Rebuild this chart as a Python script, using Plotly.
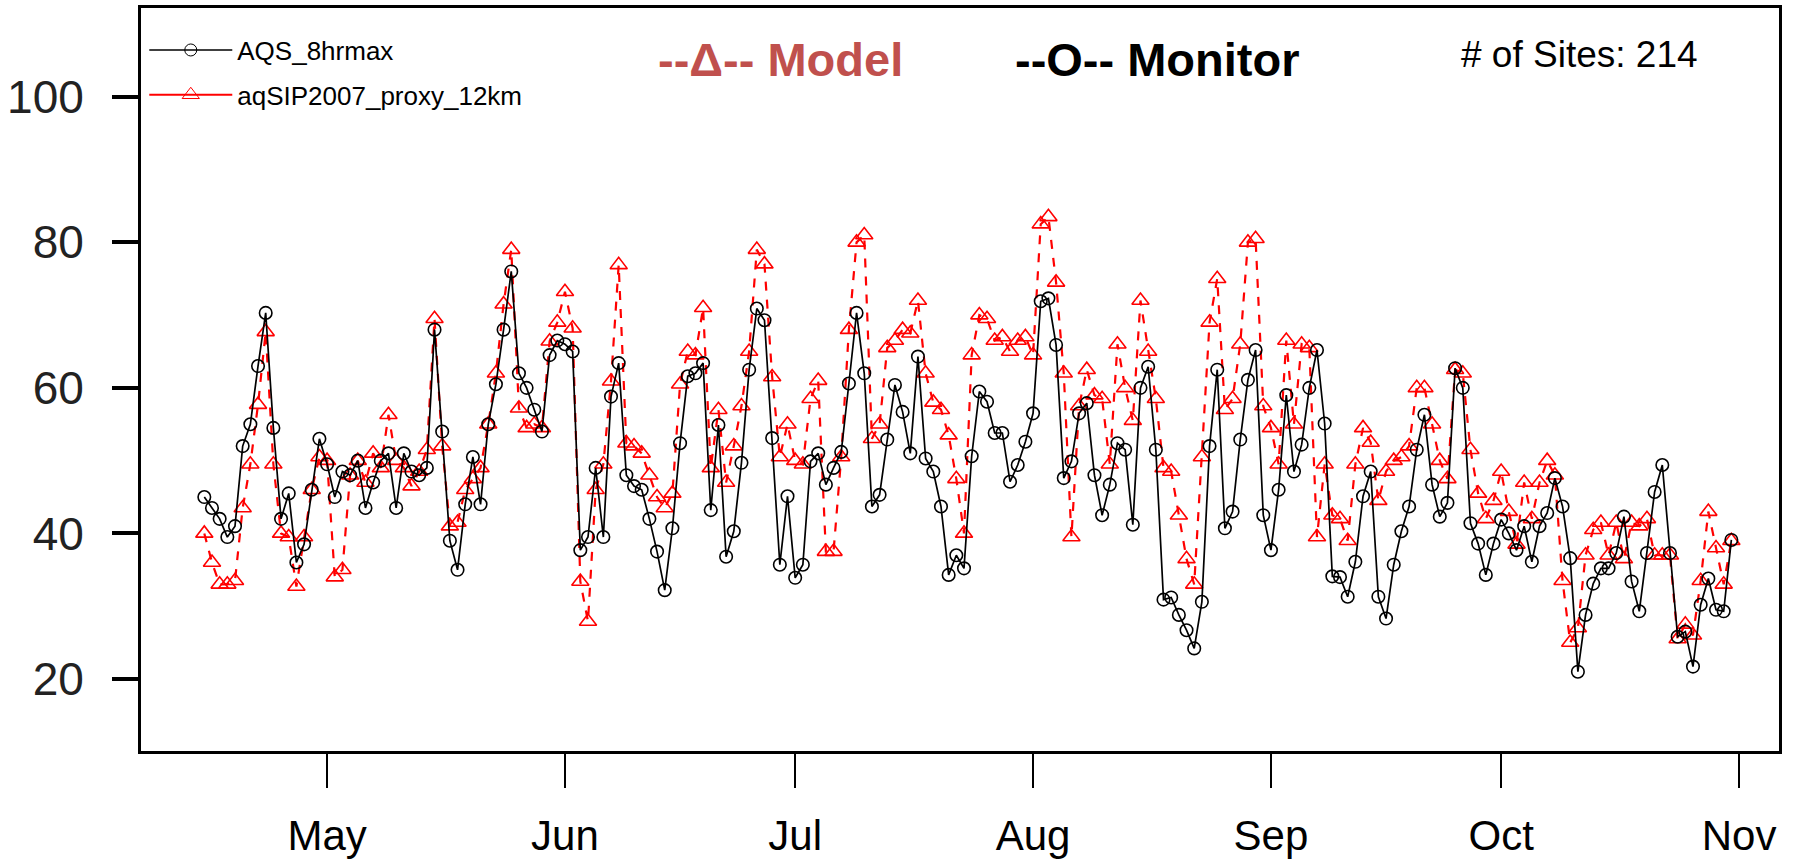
import plotly.graph_objects as go
import pandas as pd

start_date = "2007-04-15"

monitor = [
    45, 43.5, 42, 39.5, 41, 52, 55, 63, 70.3, 54.5,
    42, 45.5, 36, 38.5, 46, 53, 49.5, 45, 48.5, 48,
    50, 43.5, 47, 50, 51, 43.5, 51, 48.5, 48, 49,
    68, 54, 39, 35, 44, 50.5, 44, 55, 60.5, 68,
    76, 62, 60, 57, 54, 64.5, 66.5, 66, 65, 37.7,
    39.5, 49, 39.5, 58.8, 63.4, 48, 46.5, 46, 42, 37.5,
    32.2, 40.7, 52.4, 61.6, 62, 63.4, 43.2, 54.9, 36.8, 40.3,
    49.7, 62.5, 70.9, 69.3, 53.1, 35.7, 45.1, 33.9, 35.7, 49.9,
    51, 46.7, 49, 51.2, 60.6, 70.3, 62, 43.7, 45.3, 52.9,
    60.4, 56.7, 51, 64.3, 50.3, 48.5, 43.7, 34.3, 37, 35.2,
    50.6, 59.5, 58.1, 53.8, 53.8, 47.1, 49.4, 52.6, 56.5, 71.9,
    72.3, 65.9, 47.6, 49.9, 56.5, 57.9, 48, 42.5, 46.7, 52.4,
    51.5, 41.2, 60, 62.9, 51.5, 30.9, 31.2, 28.8, 26.7, 24.2,
    30.6, 52, 62.5, 40.7, 43, 52.9, 61.1, 65.2, 42.5, 37.7,
    46, 59, 48.5, 52.2, 60, 65.2, 55.1, 34.1, 34, 31.3,
    36.1, 45.1, 48.5, 31.3, 28.3, 35.7, 40.3, 43.7, 51.5, 56.3,
    46.7, 42.3, 44.2, 62.7, 60, 41.4, 38.6, 34.3, 38.6, 41.9,
    40, 37.7, 41, 36.1, 41, 42.8, 47.6, 43.7, 36.6, 21,
    28.8, 33.1, 35.2, 35.2, 37.3, 42.3, 33.4, 29.3, 37.3, 45.7,
    49.4, 37.3, 25.8, 26.5, 21.7, 30.2, 33.8, 29.5, 29.3, 39.1,
]

model = [
    40, 36, 33, 33, 33.5, 43.5, 49.5, 57.7, 67.7, 49.5,
    40, 39.5, 32.7, 39.5, 46, 50.5, 50, 34, 35, 48,
    50, 47, 51, 49, 56.3, 50, 49, 46.5, 48.5, 51.5,
    69.5, 52, 41, 41.5, 46, 47.5, 49, 55, 62, 71.5,
    79, 57.2, 54.5, 55, 54.5, 66.4, 69, 73.2, 68.2, 33.4,
    27.9, 46, 49.5, 60.9, 76.9, 52.4, 52, 51, 48, 45,
    43.5, 45.5, 60.5, 65, 64.5, 71, 49, 57, 47, 52,
    57.5, 65, 79, 77, 61.5, 50.5, 55, 50, 49.5, 58.5,
    61, 37.5, 37.5, 50.5, 68, 80, 81, 53, 55, 65.5,
    66.5, 68, 67.5, 72, 62, 58, 57, 53.5, 47.5, 40,
    64.5, 70, 69.5, 66.5, 67, 65, 66.5, 67, 64.5, 82.5,
    83.5, 74.5, 62, 39.5, 57.5, 62.5, 59, 58.5, 49.5, 66,
    60, 55.5, 72, 65, 58.5, 49, 48.5, 42.5, 36.5, 33,
    50.5, 69, 75, 57, 58.5, 66, 80, 80.5, 57.5, 54.5,
    49.5, 66.5, 55, 66, 65.5, 39.5, 49.5, 42.5, 42, 39,
    49.5, 54.5, 52.5, 44.5, 48.5, 50, 50.5, 52, 60, 60,
    55, 50, 47.5, 62.5, 62, 51.5, 45.5, 42, 44.5, 48.5,
    43, 38.5, 47, 42, 47, 50, 48, 33.5, 25, 27,
    37, 40.5, 41.5, 37, 41.5, 36.5, 41.5, 41, 42, 37,
    37, 37, 25.5, 27.5, 26, 33.5, 43, 38, 33, 39,
]

month_ticks = ["2007-05-01", "2007-06-01", "2007-07-01", "2007-08-01",
               "2007-09-01", "2007-10-01", "2007-11-01"]
month_labels = ["May", "Jun", "Jul", "Aug", "Sep", "Oct", "Nov"]
y_ticks = [20, 40, 60, 80, 100]

series_names = ["AQS_8hrmax", "aqSIP2007_proxy_12km"]
sites_text = "# of Sites: 214"

dates = pd.date_range(start_date, periods=len(monitor), freq="D")

FONT = "Liberation Sans, Arial, sans-serif"

fig = go.Figure()

fig.add_trace(go.Scatter(
    x=dates, y=model, mode="lines+markers", showlegend=False,
    line=dict(color="#ff0000", width=2.2, dash="dash"),
    marker=dict(symbol="triangle-up-open", size=15, color="#ff0000",
                line=dict(width=1.6, color="#ff0000")),
))
fig.add_trace(go.Scatter(
    x=dates, y=monitor, mode="lines+markers", showlegend=False,
    line=dict(color="black", width=1.7),
    marker=dict(symbol="circle-open", size=12.5, color="black",
                line=dict(width=1.6, color="black")),
))

# legend entries (solid line samples as in the reference)
fig.add_trace(go.Scatter(
    x=[None], y=[None], mode="lines+markers", name=series_names[0],
    legendgroup="a",
    line=dict(color="black", width=1.6),
    marker=dict(symbol="circle-open", size=12, color="black"),
))
fig.add_trace(go.Scatter(
    x=[None], y=[None], mode="lines+markers", name=series_names[1],
    legendgroup="b",
    line=dict(color="#ff0000", width=2),
    marker=dict(symbol="triangle-up-open", size=15, color="#ff0000"),
))

fig.update_layout(
    width=1793, height=865,
    margin=dict(l=141, r=14, t=8, b=114),
    paper_bgcolor="white", plot_bgcolor="white",
    font=dict(family=FONT, color="black"),
    showlegend=True,
    legend=dict(x=0.002, y=0.975, xanchor="left", yanchor="top",
                font=dict(size=26, family=FONT, color="black"),
                bgcolor="rgba(0,0,0,0)", tracegroupgap=8,
                itemwidth=83),
    xaxis=dict(
        type="date",
        range=["2007-04-06 18:00", "2007-11-06 05:00"],
        tickvals=month_ticks, ticktext=month_labels,
        ticks="outside", ticklen=34, tickwidth=1.5, tickcolor="black",
        showline=True, linewidth=3, linecolor="black", mirror=True,
        showgrid=False, zeroline=False, automargin=False,
        tickfont=dict(size=42, family=FONT, color="black"),
        ticklabelstandoff=12,
    ),
    yaxis=dict(
        range=[10.1, 112.2],
        tickvals=y_ticks,
        ticks="outside", ticklen=26, tickwidth=3.5, tickcolor="black",
        showline=True, linewidth=3, linecolor="black", mirror=True,
        showgrid=False, zeroline=False, automargin=False,
        tickfont=dict(size=46, family=FONT, color="#222222"),
        ticklabelstandoff=19,
    ),
    annotations=[
        dict(text="--\u0394-- Model", x=0.3907, y=0.931, xref="paper", yref="paper",
             showarrow=False, xanchor="center", yanchor="middle",
             font=dict(size=47, family=FONT, color="#c0504d", weight="bold")),
        dict(text="--O-- Monitor", x=0.6203, y=0.931, xref="paper", yref="paper",
             showarrow=False, xanchor="center", yanchor="middle",
             font=dict(size=47, family=FONT, color="black", weight="bold")),
        dict(text=sites_text, x=0.8785, y=0.938, xref="paper", yref="paper",
             showarrow=False, xanchor="center", yanchor="middle",
             font=dict(size=37, family=FONT, color="black")),
    ],
)

fig.write_html("out.html")
